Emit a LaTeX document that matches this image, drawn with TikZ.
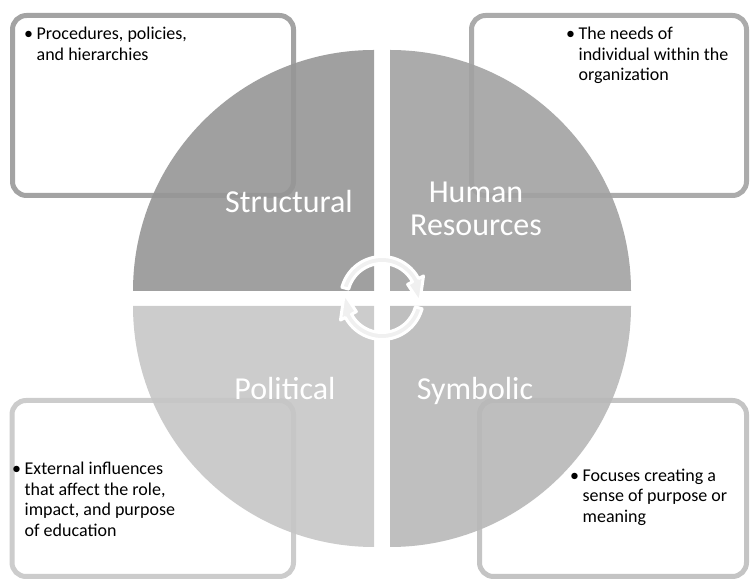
\documentclass[tikz,border=0pt]{standalone}
\usepackage{fontspec}
\setmainfont{Carlito}
\usepackage{tikz}

\definecolor{lineA}{gray}{0.64}
\definecolor{lineB}{gray}{0.67}
\definecolor{lineC}{gray}{0.80}
\definecolor{lineD}{gray}{0.77}
\definecolor{quadA}{gray}{0.59}
\definecolor{quadB}{gray}{0.634}
\definecolor{quadC}{gray}{0.777}
\definecolor{quadD}{gray}{0.72}

\newcommand{\bul}[1]{\begin{tabular}[t]{@{}l@{\hspace{3.5pt}}l@{}}\textbullet & #1\end{tabular}}

\begin{document}
\begin{tikzpicture}[x = 1pt, y = 1pt,
	box/.style = {rounded corners = 14pt, line width = 5pt, fill = white},
	quad/.style = {fill opacity = 0.9},
	lbl/.style = {text = white, font = \fontsize{32}{33}\selectfont, align = center, inner sep = 0pt},
	txt/.style = {font = \fontsize{18}{20.5}\selectfont, inner sep = 0pt},
	turn/.style = {fill = gray!12, draw = white, line width = 3pt, line join = round}]
\useasboundingbox (0,0) rectangle (750,581);
\draw [box, draw = lineA] (12.5,385.5) rectangle (293.5,565.5);
\draw [box, draw = lineB] (471.5,385.5) rectangle (746.5,565.5);
\draw [box, draw = lineC] (12,4.5) rectangle (293.5,180.5);
\draw [box, draw = lineD] (479.5,4.5) rectangle (746.5,180.5);
\foreach \a/\col/\px/\py in {90/quadA/374/290, 0/quadB/390/290, 180/quadC/374/275, 270/quadD/390/275}
\fill [quad, \col] (\px,\py) -- ++(\a:241) arc [start angle = \a, end angle = \a+90, radius = 241] -- cycle;
\node [lbl, anchor = base] (structural) at (289,368) {Structural};
\node [lbl] (human) at (476,372) {Human\\Resources};
\node [lbl, anchor = base] (political) at (285,181) {Political};
\node [lbl, anchor = base] (symbolic) at (475,181) {Symbolic};
\node [txt, anchor = base west] (procedures) at (24,541) {\bul{Procedures, policies,\\ & and hierarchies}};
\node [txt, anchor = base west] (needs) at (566,541) {\bul{The needs of\\ & individual within the\\ & organization}};
\node [txt, anchor = base west] (external) at (12,106) {\bul{External influences\\ & that affect the role,\\ & impact, and purpose\\ & of education}};
\node [txt, anchor = base west] (focuses) at (570,99.5) {\bul{Focuses creating a\\ & sense of purpose or\\ & meaning}};
\coordinate (c) at (382,283);
\foreach \r in {0,180}
\draw [turn, shift = {(c)}, rotate = \r] (165:41.5)
			arc [start angle = 165, end angle = 28, radius = 41.5]
			-- (28:47) -- (-7:38) -- (28:29) -- (28:34.5)
			arc [start angle = 28, end angle = 165, radius = 34.5] -- cycle;
\end{tikzpicture}
\end{document}
